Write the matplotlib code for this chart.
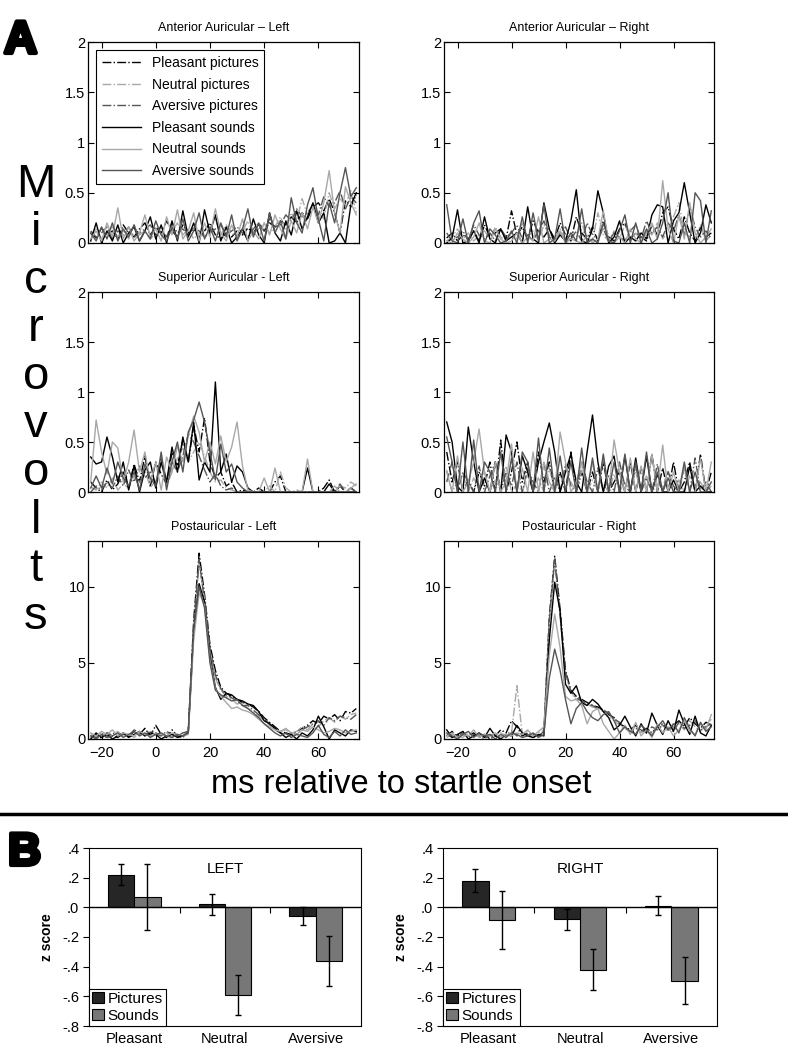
import matplotlib.pyplot as plt
import matplotlib.patheffects as pe
from matplotlib.lines import Line2D
import numpy as np

# time axis (ms relative to startle onset), 2 ms steps
ms = list(range(-24, 76, 2))

cond_labels = ['Pleasant pictures', 'Neutral pictures', 'Aversive pictures',
               'Pleasant sounds', 'Neutral sounds', 'Aversive sounds']

# Anterior Auricular - Left
AL_pp = [0.10, 0.05, 0.15, 0.08, 0.12, 0.04, 0.18, 0.10, 0.06, 0.14,
         0.20, 0.08, 0.16, 0.10, 0.22, 0.12, 0.06, 0.18, 0.10, 0.14,
         0.05, 0.12, 0.20, 0.08, 0.04, 0.10, 0.06, 0.12, 0.08, 0.15,
         0.10, 0.18, 0.12, 0.20, 0.16, 0.22, 0.18, 0.26, 0.20, 0.30,
         0.24, 0.36, 0.40, 0.32, 0.44, 0.30, 0.10, 0.42, 0.36, 0.48]
AL_np = [0.08, 0.14, 0.04, 0.10, 0.16, 0.06, 0.12, 0.04, 0.18, 0.08,
         0.12, 0.04, 0.10, 0.16, 0.06, 0.12, 0.20, 0.08, 0.14, 0.04,
         0.10, 0.06, 0.14, 0.24, 0.08, 0.18, 0.10, 0.04, 0.12, 0.22,
         0.08, 0.14, 0.20, 0.10, 0.16, 0.26, 0.14, 0.30, 0.22, 0.44,
         0.28, 0.38, 0.30, 0.24, 0.50, 0.34, 0.44, 0.38, 0.52, 0.30]
AL_ap = [0.12, 0.06, 0.10, 0.16, 0.04, 0.12, 0.08, 0.16, 0.06, 0.10,
         0.14, 0.18, 0.08, 0.12, 0.06, 0.20, 0.10, 0.14, 0.08, 0.16,
         0.12, 0.06, 0.10, 0.14, 0.18, 0.08, 0.12, 0.16, 0.10, 0.06,
         0.14, 0.20, 0.12, 0.24, 0.16, 0.18, 0.28, 0.22, 0.34, 0.26,
         0.30, 0.38, 0.28, 0.46, 0.36, 0.40, 0.52, 0.34, 0.46, 0.40]
AL_ps = [0.02, 0.20, 0.00, 0.12, 0.02, 0.18, 0.00, 0.10, 0.16, 0.02,
         0.12, 0.26, 0.04, 0.18, 0.00, 0.22, 0.02, 0.32, 0.06, 0.20,
         0.00, 0.33, 0.10, 0.28, 0.02, 0.16, 0.00, 0.06, 0.14, 0.02,
         0.24, 0.08, 0.00, 0.30, 0.10, 0.02, 0.22, 0.08, 0.32, 0.14,
         0.26, 0.40, 0.20, 0.30, 0.00, 0.02, 0.10, 0.00, 0.38, 0.50]
AL_ns = [0.04, 0.12, 0.02, 0.20, 0.06, 0.35, 0.04, 0.16, 0.02, 0.10,
         0.28, 0.06, 0.14, 0.02, 0.26, 0.08, 0.33, 0.04, 0.12, 0.30,
         0.02, 0.20, 0.06, 0.34, 0.10, 0.02, 0.18, 0.06, 0.24, 0.02,
         0.12, 0.04, 0.20, 0.08, 0.28, 0.14, 0.04, 0.22, 0.10, 0.30,
         0.14, 0.36, 0.20, 0.40, 0.72, 0.30, 0.10, 0.56, 0.40, 0.28]
AL_as = [0.10, 0.02, 0.16, 0.04, 0.20, 0.02, 0.14, 0.06, 0.18, 0.02,
         0.12, 0.04, 0.22, 0.08, 0.02, 0.16, 0.04, 0.24, 0.02, 0.12,
         0.30, 0.04, 0.16, 0.02, 0.20, 0.06, 0.28, 0.02, 0.14, 0.34,
         0.06, 0.20, 0.02, 0.30, 0.10, 0.22, 0.04, 0.45, 0.20, 0.10,
         0.38, 0.55, 0.24, 0.02, 0.40, 0.20, 0.50, 0.75, 0.46, 0.55]

# Anterior Auricular - Right
AR_pp = [0.05, 0.10, 0.02, 0.08, 0.04, 0.12, 0.02, 0.18, 0.06, 0.10,
         0.14, 0.04, 0.32, 0.08, 0.16, 0.04, 0.22, 0.10, 0.06, 0.14,
         0.04, 0.20, 0.08, 0.02, 0.26, 0.10, 0.04, 0.16, 0.02, 0.22,
         0.06, 0.02, 0.14, 0.20, 0.04, 0.10, 0.06, 0.02, 0.18, 0.08,
         0.30, 0.36, 0.14, 0.04, 0.26, 0.10, 0.02, 0.16, 0.06, 0.10]
AR_np = [0.02, 0.06, 0.14, 0.04, 0.10, 0.02, 0.08, 0.12, 0.04, 0.16,
         0.06, 0.02, 0.10, 0.04, 0.20, 0.06, 0.12, 0.02, 0.18, 0.08,
         0.04, 0.14, 0.02, 0.10, 0.06, 0.20, 0.04, 0.02, 0.30, 0.08,
         0.02, 0.12, 0.04, 0.18, 0.06, 0.10, 0.02, 0.14, 0.08, 0.20,
         0.04, 0.12, 0.26, 0.40, 0.10, 0.06, 0.04, 0.18, 0.02, 0.08]
AR_ap = [0.10, 0.02, 0.06, 0.12, 0.02, 0.18, 0.08, 0.04, 0.10, 0.02,
         0.14, 0.06, 0.10, 0.18, 0.04, 0.08, 0.02, 0.12, 0.22, 0.06,
         0.02, 0.10, 0.16, 0.04, 0.12, 0.02, 0.20, 0.08, 0.04, 0.14,
         0.02, 0.10, 0.06, 0.02, 0.12, 0.18, 0.04, 0.22, 0.10, 0.16,
         0.06, 0.20, 0.12, 0.28, 0.08, 0.36, 0.16, 0.06, 0.12, 0.04]
AR_ps = [0.00, 0.05, 0.33, 0.00, 0.02, 0.12, 0.00, 0.26, 0.04, 0.00,
         0.14, 0.02, 0.06, 0.10, 0.00, 0.36, 0.04, 0.00, 0.40, 0.14,
         0.00, 0.08, 0.02, 0.22, 0.53, 0.02, 0.00, 0.14, 0.52, 0.30,
         0.00, 0.06, 0.22, 0.00, 0.06, 0.02, 0.10, 0.04, 0.28, 0.38,
         0.36, 0.00, 0.22, 0.30, 0.60, 0.30, 0.00, 0.10, 0.38, 0.20]
AR_ns = [0.02, 0.00, 0.10, 0.04, 0.00, 0.06, 0.20, 0.02, 0.00, 0.14,
         0.04, 0.00, 0.02, 0.10, 0.00, 0.06, 0.02, 0.26, 0.00, 0.04,
         0.02, 0.12, 0.00, 0.04, 0.02, 0.00, 0.08, 0.00, 0.04, 0.32,
         0.02, 0.00, 0.06, 0.00, 0.14, 0.04, 0.00, 0.10, 0.20, 0.04,
         0.62, 0.14, 0.00, 0.28, 0.04, 0.40, 0.10, 0.00, 0.06, 0.14]
AR_as = [0.38, 0.02, 0.00, 0.24, 0.00, 0.20, 0.32, 0.00, 0.14, 0.08,
         0.00, 0.02, 0.12, 0.00, 0.26, 0.00, 0.30, 0.02, 0.38, 0.00,
         0.04, 0.34, 0.00, 0.10, 0.02, 0.34, 0.00, 0.04, 0.00, 0.20,
         0.02, 0.00, 0.12, 0.28, 0.00, 0.20, 0.00, 0.14, 0.00, 0.04,
         0.20, 0.50, 0.02, 0.00, 0.20, 0.00, 0.50, 0.42, 0.00, 0.32]

# Superior Auricular - Left
SL_pp = [0.10, 0.04, 0.00, 0.12, 0.02, 0.08, 0.20, 0.04, 0.28, 0.10,
         0.36, 0.06, 0.30, 0.18, 0.08, 0.40, 0.26, 0.52, 0.30, 0.66,
         0.40, 0.74, 0.30, 0.14, 0.20, 0.06, 0.10, 0.00, 0.02, 0.00,
         0.00, 0.04, 0.00, 0.00, 0.10, 0.16, 0.00, 0.00, 0.00, 0.00,
         0.00, 0.00, 0.00, 0.04, 0.12, 0.00, 0.06, 0.00, 0.04, 0.00]
SL_np = [0.05, 0.02, 0.10, 0.04, 0.14, 0.02, 0.08, 0.04, 0.16, 0.10,
         0.22, 0.04, 0.12, 0.30, 0.06, 0.20, 0.34, 0.44, 0.30, 0.40,
         0.50, 0.36, 0.20, 0.10, 0.12, 0.04, 0.02, 0.00, 0.00, 0.00,
         0.00, 0.00, 0.00, 0.06, 0.00, 0.20, 0.04, 0.00, 0.02, 0.00,
         0.00, 0.00, 0.00, 0.00, 0.00, 0.00, 0.06, 0.04, 0.10, 0.06]
SL_ap = [0.00, 0.06, 0.02, 0.10, 0.04, 0.16, 0.06, 0.22, 0.10, 0.26,
         0.14, 0.20, 0.08, 0.34, 0.12, 0.30, 0.20, 0.36, 0.58, 0.50,
         0.36, 0.22, 0.10, 0.18, 0.06, 0.02, 0.04, 0.00, 0.00, 0.00,
         0.00, 0.00, 0.00, 0.00, 0.00, 0.00, 0.00, 0.00, 0.00, 0.00,
         0.00, 0.00, 0.00, 0.00, 0.00, 0.02, 0.08, 0.00, 0.04, 0.00]
SL_ps = [0.35, 0.28, 0.30, 0.55, 0.35, 0.10, 0.30, 0.02, 0.26, 0.00,
         0.22, 0.30, 0.04, 0.30, 0.10, 0.45, 0.20, 0.55, 0.30, 0.70,
         0.12, 0.30, 0.20, 1.10, 0.20, 0.38, 0.10, 0.26, 0.20, 0.04,
         0.00, 0.00, 0.00, 0.00, 0.00, 0.00, 0.00, 0.00, 0.00, 0.00,
         0.24, 0.00, 0.00, 0.00, 0.08, 0.00, 0.00, 0.00, 0.00, 0.00]
SL_ns = [0.10, 0.72, 0.40, 0.18, 0.50, 0.44, 0.10, 0.30, 0.62, 0.20,
         0.40, 0.10, 0.30, 0.02, 0.35, 0.20, 0.46, 0.30, 0.56, 0.76,
         0.60, 0.30, 0.50, 0.28, 0.56, 0.30, 0.45, 0.70, 0.26, 0.02,
         0.00, 0.00, 0.14, 0.00, 0.24, 0.00, 0.00, 0.00, 0.00, 0.00,
         0.33, 0.00, 0.00, 0.00, 0.00, 0.06, 0.00, 0.00, 0.04, 0.08]
SL_as = [0.04, 0.16, 0.04, 0.24, 0.08, 0.30, 0.14, 0.06, 0.20, 0.02,
         0.28, 0.14, 0.06, 0.40, 0.02, 0.30, 0.50, 0.20, 0.60, 0.72,
         0.90, 0.70, 0.40, 0.12, 0.48, 0.20, 0.28, 0.10, 0.04, 0.00,
         0.00, 0.00, 0.00, 0.00, 0.00, 0.00, 0.00, 0.00, 0.00, 0.00,
         0.00, 0.00, 0.00, 0.00, 0.00, 0.00, 0.00, 0.00, 0.00, 0.00]

# Superior Auricular - Right
SR_pp = [0.40, 0.10, 0.30, 0.00, 0.12, 0.00, 0.20, 0.06, 0.30, 0.00,
         0.52, 0.00, 0.20, 0.50, 0.10, 0.30, 0.00, 0.40, 0.10, 0.30,
         0.00, 0.20, 0.00, 0.40, 0.00, 0.20, 0.00, 0.20, 0.00, 0.30,
         0.00, 0.10, 0.20, 0.00, 0.30, 0.00, 0.24, 0.00, 0.38, 0.00,
         0.24, 0.00, 0.30, 0.00, 0.10, 0.30, 0.00, 0.38, 0.00, 0.20]
SR_np = [0.22, 0.00, 0.10, 0.18, 0.00, 0.14, 0.04, 0.20, 0.00, 0.12,
         0.02, 0.26, 0.00, 0.08, 0.00, 0.18, 0.02, 0.14, 0.00, 0.24,
         0.00, 0.16, 0.06, 0.10, 0.00, 0.22, 0.00, 0.12, 0.04, 0.08,
         0.00, 0.18, 0.00, 0.10, 0.02, 0.20, 0.00, 0.16, 0.00, 0.08,
         0.04, 0.22, 0.00, 0.12, 0.00, 0.16, 0.02, 0.10, 0.00, 0.06]
SR_ap = [0.10, 0.30, 0.00, 0.20, 0.10, 0.00, 0.26, 0.00, 0.16, 0.30,
         0.00, 0.20, 0.06, 0.30, 0.00, 0.24, 0.10, 0.00, 0.30, 0.00,
         0.14, 0.00, 0.28, 0.06, 0.00, 0.30, 0.10, 0.00, 0.24, 0.00,
         0.16, 0.00, 0.30, 0.06, 0.00, 0.26, 0.00, 0.14, 0.00, 0.28,
         0.00, 0.20, 0.06, 0.00, 0.24, 0.00, 0.34, 0.00, 0.10, 0.00]
SR_ps = [0.70, 0.50, 0.05, 0.00, 0.65, 0.30, 0.00, 0.14, 0.00, 0.30,
         0.00, 0.57, 0.40, 0.00, 0.36, 0.20, 0.00, 0.30, 0.50, 0.69,
         0.40, 0.00, 0.20, 0.38, 0.10, 0.00, 0.40, 0.77, 0.30, 0.00,
         0.26, 0.36, 0.00, 0.36, 0.00, 0.34, 0.00, 0.36, 0.00, 0.18,
         0.00, 0.00, 0.12, 0.00, 0.00, 0.26, 0.00, 0.06, 0.00, 0.00]
SR_ns = [0.20, 0.00, 0.36, 0.00, 0.10, 0.30, 0.63, 0.20, 0.00, 0.30,
         0.00, 0.10, 0.48, 0.00, 0.24, 0.00, 0.40, 0.00, 0.30, 0.10,
         0.00, 0.60, 0.30, 0.00, 0.10, 0.30, 0.00, 0.30, 0.00, 0.36,
         0.00, 0.52, 0.20, 0.00, 0.34, 0.00, 0.26, 0.00, 0.38, 0.00,
         0.47, 0.00, 0.20, 0.00, 0.26, 0.00, 0.00, 0.34, 0.00, 0.30]
SR_as = [0.55, 0.30, 0.00, 0.50, 0.00, 0.52, 0.00, 0.30, 0.20, 0.00,
         0.40, 0.00, 0.34, 0.00, 0.40, 0.30, 0.00, 0.54, 0.00, 0.44,
         0.00, 0.36, 0.00, 0.30, 0.00, 0.44, 0.00, 0.34, 0.00, 0.38,
         0.00, 0.30, 0.00, 0.38, 0.00, 0.30, 0.00, 0.40, 0.00, 0.20,
         0.00, 0.14, 0.00, 0.00, 0.30, 0.00, 0.20, 0.00, 0.00, 0.10]

# Postauricular - Left
PL_pp = [0.10, 0.30, 0.05, 0.40, 0.20, 0.10, 0.35, 0.15, 0.50, 0.30,
         0.70, 0.20, 0.90, 0.30, 0.10, 0.60, 0.20, 0.10, 0.50, 7.80,
         12.2, 9.50, 6.20, 4.50, 3.40, 3.00, 2.80, 2.60, 2.40, 2.30,
         2.10, 1.80, 1.40, 1.10, 0.80, 0.50, 0.40, 0.30, 0.50, 0.70,
         0.90, 1.20, 1.00, 1.50, 1.30, 1.60, 1.20, 1.80, 1.70, 2.00]
PL_np = [0.30, 0.10, 0.40, 0.20, 0.30, 0.50, 0.20, 0.30, 0.10, 0.40,
         0.20, 0.50, 0.30, 0.20, 0.40, 0.10, 0.30, 0.20, 0.60, 7.20,
         11.5, 9.20, 5.80, 4.00, 3.20, 2.80, 2.60, 2.30, 2.40, 2.00,
         1.80, 1.50, 1.20, 0.90, 0.70, 0.50, 0.60, 0.40, 0.50, 0.80,
         0.60, 1.00, 0.80, 1.20, 1.40, 1.10, 1.50, 1.30, 1.60, 1.70]
PL_ap = [0.20, 0.10, 0.30, 0.10, 0.40, 0.20, 0.30, 0.20, 0.60, 0.40,
         0.30, 0.50, 0.40, 0.20, 0.50, 0.30, 0.20, 0.40, 0.50, 7.50,
         11.8, 9.00, 6.00, 4.20, 3.30, 2.90, 2.70, 2.50, 2.20, 2.20,
         1.90, 1.60, 1.30, 1.00, 0.60, 0.40, 0.30, 0.40, 0.30, 0.60,
         0.80, 1.00, 1.20, 0.90, 1.40, 1.20, 1.50, 1.40, 1.30, 1.60]
PL_ps = [0.00, 0.40, 0.10, 0.30, 0.00, 0.20, 0.40, 0.10, 0.30, 0.50,
         0.20, 0.40, 0.30, 0.00, 0.20, 0.30, 0.10, 0.20, 0.40, 7.00,
         10.2, 9.00, 5.50, 3.40, 2.60, 3.00, 2.90, 2.60, 2.50, 2.30,
         2.20, 1.80, 1.20, 1.00, 0.70, 0.40, 0.10, 0.30, 0.00, 0.40,
         0.20, 0.60, 1.50, 0.80, 0.00, 0.60, 0.40, 0.20, 0.60, 0.50]
PL_ns = [0.40, 0.20, 0.50, 0.30, 0.60, 0.20, 0.40, 0.30, 0.20, 0.50,
         0.30, 0.20, 0.40, 0.30, 0.20, 0.40, 0.30, 0.20, 0.30, 6.50,
         9.60, 8.80, 5.20, 3.30, 2.80, 2.40, 2.00, 2.10, 1.90, 1.80,
         1.60, 1.30, 1.00, 0.80, 0.60, 0.50, 0.70, 0.40, 0.30, 0.60,
         0.50, 0.80, 0.60, 0.40, 0.50, 0.70, 0.60, 0.40, 0.50, 0.60]
PL_as = [0.20, 0.00, 0.30, 0.10, 0.20, 0.40, 0.10, 0.30, 0.50, 0.20,
         0.40, 0.10, 0.30, 0.40, 0.20, 0.10, 0.30, 0.20, 0.40, 7.20,
         10.0, 8.60, 5.00, 3.20, 2.90, 2.70, 2.50, 2.60, 2.20, 2.00,
         1.70, 1.40, 1.00, 0.70, 0.40, 0.20, 0.40, 0.10, 0.30, 0.20,
         0.10, 0.40, 0.90, 0.30, 0.10, 0.50, 0.20, 0.60, 0.30, 0.40]

# Postauricular - Right
PR_pp = [0.20, 0.50, 0.10, 0.30, 0.20, 0.40, 0.10, 0.30, 0.00, 0.20,
         0.60, 0.40, 1.20, 0.80, 0.20, 0.40, 0.30, 0.20, 0.40, 8.00,
         12.0, 8.50, 4.50, 3.20, 2.80, 2.60, 2.40, 2.20, 2.10, 1.90,
         1.60, 1.40, 1.00, 0.80, 0.60, 0.90, 0.50, 0.70, 0.40, 0.80,
         1.00, 0.60, 0.90, 1.20, 0.80, 1.40, 1.00, 0.70, 1.10, 0.90]
PR_np = [0.10, 0.30, 0.20, 0.10, 0.40, 0.20, 0.30, 0.10, 0.20, 0.30,
         0.40, 0.20, 0.40, 3.50, 0.30, 0.50, 0.20, 0.40, 0.60, 7.50,
         11.6, 8.00, 4.20, 3.00, 2.60, 2.50, 2.30, 2.10, 2.00, 1.80,
         1.50, 1.20, 0.90, 0.70, 0.50, 0.80, 0.40, 0.60, 0.30, 0.70,
         0.90, 0.50, 0.80, 1.00, 0.60, 1.20, 0.80, 0.50, 0.90, 1.30]
PR_ap = [0.30, 0.10, 0.20, 0.40, 0.10, 0.30, 0.20, 0.00, 0.30, 0.20,
         0.10, 0.30, 0.50, 0.20, 0.40, 0.30, 0.10, 0.20, 0.50, 7.80,
         11.8, 8.20, 4.40, 3.10, 2.70, 2.50, 2.30, 2.20, 2.00, 1.90,
         1.70, 1.30, 1.10, 0.70, 0.50, 0.70, 0.60, 0.40, 0.80, 0.60,
         0.90, 0.70, 0.50, 1.10, 0.70, 0.90, 1.20, 0.60, 0.80, 1.00]
PR_ps = [0.60, 0.10, 0.30, 0.50, 0.00, 0.20, 0.40, 0.10, 0.70, 0.20,
         0.00, 0.30, 0.20, 0.90, 0.40, 0.20, 0.10, 0.30, 0.20, 6.50,
         10.3, 8.40, 3.60, 3.00, 3.50, 2.40, 2.20, 2.60, 2.30, 1.80,
         1.40, 0.60, 0.90, 1.50, 0.80, 0.20, 1.00, 0.40, 1.70, 0.90,
         0.30, 1.20, 0.50, 1.90, 1.00, 0.30, 1.50, 0.40, 0.20, 0.90]
PR_ns = [0.20, 0.40, 0.10, 0.30, 0.20, 0.60, 0.10, 0.30, 0.20, 0.40,
         0.10, 0.30, 0.20, 0.40, 0.30, 0.60, 0.20, 0.50, 0.80, 5.50,
         8.20, 6.00, 2.80, 2.50, 2.60, 2.20, 1.00, 1.80, 2.00, 1.00,
         0.50, 0.00, 0.40, 0.90, 0.30, 1.10, 0.20, 0.60, 0.10, 1.00,
         0.40, 0.80, 0.20, 0.60, 1.20, 0.50, 0.30, 1.00, 0.60, 1.60]
PR_as = [0.40, 0.20, 0.00, 0.30, 0.50, 0.10, 0.40, 0.20, 0.30, 0.00,
         0.30, 0.10, 0.40, 0.30, 0.10, 0.20, 0.40, 0.10, 0.30, 4.00,
         5.90, 4.50, 2.60, 1.00, 2.00, 2.40, 1.80, 1.40, 1.20, 1.60,
         1.80, 1.20, 0.40, 0.80, 0.50, 0.30, 0.90, 0.60, 0.20, 0.80,
         1.20, 0.60, 1.00, 0.40, 1.40, 0.70, 0.20, 1.10, 0.50, 0.80]

# Panel B: z scores (mean, error)
bar_groups = ['Pleasant', 'Neutral', 'Aversive']
left_pictures = [0.22, 0.02, -0.06]
left_pictures_err = [0.07, 0.07, 0.06]
left_sounds = [0.07, -0.59, -0.36]
left_sounds_err = [0.22, 0.135, 0.17]
right_pictures = [0.18, -0.08, 0.01]
right_pictures_err = [0.077, 0.07, 0.065]
right_sounds = [-0.085, -0.42, -0.495]
right_sounds_err = [0.195, 0.14, 0.16]

# styles
line_colors = ['black', '#a8a8a8', '#555555', 'black', '#a8a8a8', '#555555']
line_styles = ['-.', '-.', '-.', '-', '-', '-']
narrow = ['Liberation Sans Narrow', 'Liberation Sans', 'DejaVu Sans']
plain = ['Liberation Sans', 'DejaVu Sans']
W, H = 788, 1050

fig = plt.figure(figsize=(W / 100, H / 100), dpi=100)


def px_box(x0, y0, x1, y1):
    # pixel box -> figure fraction
    return [x0 / W, 1 - y1 / H, (x1 - x0) / W, (y1 - y0) / H]


def line_panel(box, title, series, ymax, yt, ytl, bottom_row=False, legend=False):
    ax = fig.add_axes(px_box(*box))
    for y, c, ls, lab in zip(series, line_colors, line_styles, cond_labels):
        ax.plot(ms, y, color=c, ls=ls, lw=1.0, label=lab)
    ax.set_xlim(-25, 75)
    ax.set_ylim(0, ymax)
    ax.set_xticks([-20, 0, 20, 40, 60])
    ax.set_yticks(yt)
    ax.set_yticklabels(ytl)
    if not bottom_row:
        ax.set_xticklabels([])
    ax.tick_params(direction='in', top=True, right=True, length=4, width=0.8,
                   labelsize=10.5)
    ax.tick_params(axis='x', pad=5)
    ax.tick_params(axis='y', pad=2)
    for lab in ax.get_xticklabels() + ax.get_yticklabels():
        lab.set_family(narrow)
    for s in ax.spines.values():
        s.set_linewidth(0.9)
    ax.set_title(title, fontsize=9, family=narrow, pad=8)
    if legend:
        leg = ax.legend(loc='upper left', prop={'family': narrow, 'size': 10},
                        fancybox=False, edgecolor='black', framealpha=1,
                        borderaxespad=0.6, handlelength=2.8, labelspacing=0.55,
                        borderpad=0.4)
        leg.get_frame().set_linewidth(0.8)
    return ax


small_yt = [0, 0.5, 1, 1.5, 2]
small_ytl = ['0', '0.5', '1', '1.5', '2']
big_yt = [0, 5, 10]
big_ytl = ['0', '5', '10']

line_panel((88, 42, 359, 243), 'Anterior Auricular \u2013 Left',
           [AL_pp, AL_np, AL_ap, AL_ps, AL_ns, AL_as], 2, small_yt, small_ytl, legend=True)
line_panel((444, 42, 714, 243), 'Anterior Auricular \u2013 Right',
           [AR_pp, AR_np, AR_ap, AR_ps, AR_ns, AR_as], 2, small_yt, small_ytl)
line_panel((88, 292, 359, 492), 'Superior Auricular - Left',
           [SL_pp, SL_np, SL_ap, SL_ps, SL_ns, SL_as], 2, small_yt, small_ytl)
line_panel((444, 292, 714, 492), 'Superior Auricular - Right',
           [SR_pp, SR_np, SR_ap, SR_ps, SR_ns, SR_as], 2, small_yt, small_ytl)
line_panel((88, 541, 359, 739), 'Postauricular - Left',
           [PL_pp, PL_np, PL_ap, PL_ps, PL_ns, PL_as], 13, big_yt, big_ytl, bottom_row=True)
line_panel((444, 541, 714, 739), 'Postauricular - Right',
           [PR_pp, PR_np, PR_ap, PR_ps, PR_ns, PR_as], 13, big_yt, big_ytl, bottom_row=True)

# vertical "Microvolts" and x label
for i, ch in enumerate('Microvolts'):
    fig.text(36 / W, 1 - (197 + 48 * i) / H, ch, ha='center', va='baseline',
             fontsize=34, family=plain)
fig.text(401 / W, 1 - 793 / H, 'ms relative to startle onset', ha='center',
         va='baseline', fontsize=23.5, family=plain)

# panel letters
for letter, x, y in [('A', 4, 53), ('B', 8, 865)]:
    fig.text(x / W, 1 - y / H, letter, ha='left', va='baseline', fontsize=33,
             fontweight='bold', family=plain,
             path_effects=[pe.withStroke(linewidth=3, foreground='black')])

# separator line
fig.add_artist(Line2D([0, 1], [1 - 814 / H, 1 - 814 / H], transform=fig.transFigure,
                      color='black', lw=2.5))


def bar_panel(box, title, pics, pics_err, snds, snds_err):
    ax = fig.add_axes(px_box(*box))
    x = np.arange(len(bar_groups))
    w = 0.29
    ax.bar(x - w / 2, pics, w, color='#262626', edgecolor='black', lw=0.8,
           label='Pictures', zorder=2)
    ax.bar(x + w / 2, snds, w, color='#777777', edgecolor='black', lw=0.8,
           label='Sounds', zorder=2)
    ax.errorbar(x - w / 2, pics, yerr=pics_err, fmt='none', ecolor='black',
                elinewidth=1, capsize=2.5, capthick=1, zorder=3)
    ax.errorbar(x + w / 2, snds, yerr=snds_err, fmt='none', ecolor='black',
                elinewidth=1, capsize=2.5, capthick=1, zorder=3)
    ax.axhline(0, color='black', lw=1, zorder=4)
    # category tick marks on the zero line
    ax.vlines(x[:-1] + 0.5, -0.035, 0, color='black', lw=0.8)
    ax.set_xlim(-0.5, len(bar_groups) - 0.5)
    ax.set_ylim(-0.8, 0.4)
    yt = [0.4, 0.2, 0.0, -0.2, -0.4, -0.6, -0.8]
    ax.set_yticks(yt)
    ax.set_yticklabels([('%.1f' % v).replace('0.', '.') for v in yt])
    ax.set_xticks(x)
    ax.set_xticklabels(bar_groups)
    ax.tick_params(axis='x', length=0, pad=4, labelsize=10.5)
    ax.tick_params(axis='y', direction='out', length=4, width=0.8, pad=3, labelsize=10.5)
    for lab in ax.get_xticklabels() + ax.get_yticklabels():
        lab.set_family(plain)
    for s in ax.spines.values():
        s.set_linewidth(0.8)
    ax.set_ylabel('z score', fontsize=10, fontweight='bold', family=plain, labelpad=6)
    ax.text(0.5, 0.88, title, transform=ax.transAxes, ha='center', va='center',
            fontsize=11, family=plain)
    leg = ax.legend(loc='lower left', prop={'family': plain, 'size': 11},
                    fancybox=False, edgecolor='black', framealpha=1,
                    borderaxespad=0, handlelength=0.8, handleheight=0.8,
                    handletextpad=0.2, labelspacing=0.2, borderpad=0.2)
    leg.get_frame().set_linewidth(0.8)
    return ax


bar_panel((89, 848, 361, 1026), 'LEFT', left_pictures, left_pictures_err,
          left_sounds, left_sounds_err)
bar_panel((443, 848, 717, 1026), 'RIGHT', right_pictures, right_pictures_err,
          right_sounds, right_sounds_err)

fig.savefig('out.png', dpi=100)
